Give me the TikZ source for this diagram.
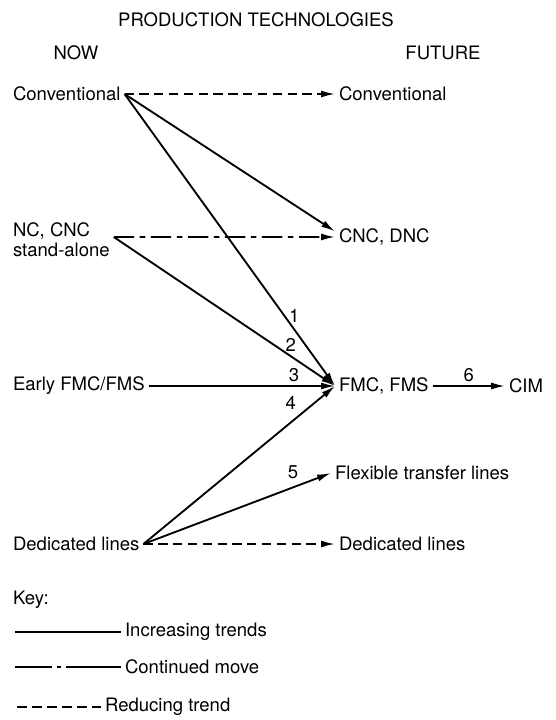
\documentclass[tikz,border=0pt]{standalone}
\usepackage{fontspec}
\setmainfont{TeX Gyre Heros}
\usetikzlibrary{arrows.meta}

\begin{document}
\begin{tikzpicture}[x=0.54pt,y=-0.54pt,
  every node/.style={font=\fontsize{10}{11}\selectfont, inner sep=2pt},
  increasing/.style={line width=1pt, -{Latex[length=7.5pt,width=3.8pt]}},
  continued/.style={increasing, dash pattern=on 11pt off 3pt on 3pt off 3pt},
  reducing/.style={increasing, dash pattern=on 5pt off 3pt},
  keyline/.style={line width=0.75pt}]
\useasboundingbox (0,0) rectangle (555,720);

% headings
\node (title) at (256,20) {PRODUCTION TECHNOLOGIES};
\node (now) at (76,53) {NOW};
\node (future) at (443,53) {FUTURE};

% now
\node[anchor=west] (conv) at (9,94) {Conventional};
\node[anchor=west,align=left] (nccnc) at (9,240) {NC, CNC\\stand-alone};
\node[anchor=west] (early) at (9,386) {Early FMC/FMS};
\node[anchor=west] (dedi) at (9,544) {Dedicated lines};

% future
\node[anchor=west] (convf) at (335,94) {Conventional};
\node[anchor=west] (cncdnc) at (335,237) {CNC, DNC};
\node[anchor=west] (fmc) at (335,386) {FMC, FMS};
\node[anchor=west] (flex) at (331,473) {Flexible transfer lines};
\node[anchor=west] (dedif) at (335,544) {Dedicated lines};
\node[anchor=west] (cim) at (505,386) {CIM};

\draw[reducing] (conv) -- (convf);
\draw[increasing] (conv.east) -- ([yshift=3pt]cncdnc.west);
\draw[increasing] (conv.east) -- (fmc.west) node[pos=0.76,right] {1};
\draw[continued] ([yshift=1.6pt]nccnc.east) -- (cncdnc.west);
\draw[increasing] ([yshift=1.6pt]nccnc.east) -- (fmc.west) node[pos=0.8,above] {2};
\draw[increasing] (early) -- (fmc) node[pos=0.78,above] {3};
\draw[increasing] (dedi.east) -- (fmc.west) node[pos=0.82,above left] {4};
\draw[increasing] (dedi.east) -- (flex.west) node[pos=0.85,above left] {5};
\draw[reducing] (dedi) -- (dedif);
\draw[increasing] (fmc) -- (cim) node[midway,above] {6};

% key
\node[anchor=west] (key) at (9,600) {Key:};
\node[anchor=west] (inc) at (121,632) {Increasing trends};
\node[anchor=west] (cont) at (121,667) {Continued move};
\node[anchor=west] (red) at (101,707) {Reducing trend};
\coordinate (incl) at (15,632);
\coordinate (contl) at (15,667);
\coordinate (redl) at (17,707);
\draw[keyline] (incl) -- (inc.west);
\draw[keyline,dash pattern=on 20pt off 2.5pt on 2.5pt off 2.5pt on 40pt off 0pt] (contl) -- (cont.west);
\draw[keyline,dash pattern=on 5.5pt off 2.6pt] (redl) -- (red.west);
\end{tikzpicture}
\end{document}
